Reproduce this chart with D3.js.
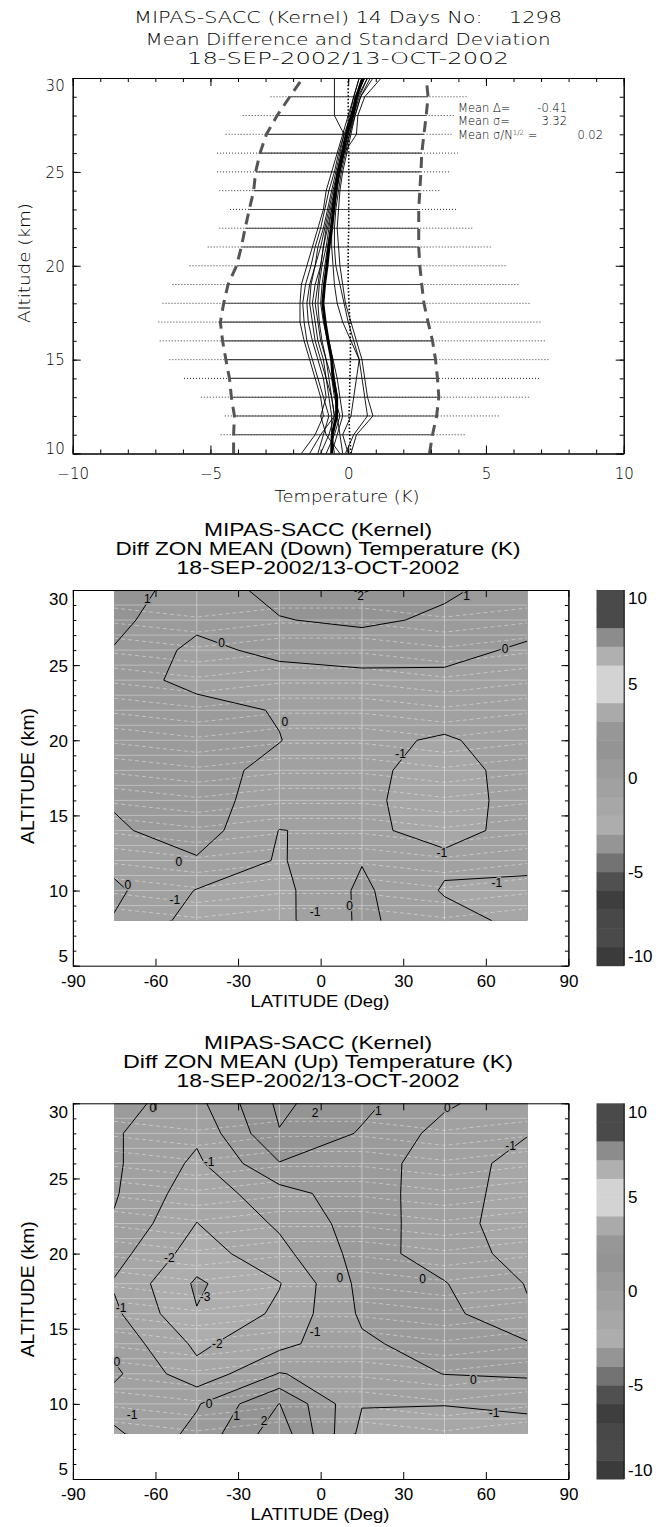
<!DOCTYPE html>
<meta charset="utf-8">
<style>
body { margin: 0; background: #fff; }
.hers { font-family: "DejaVu Sans", sans-serif; font-weight: 200; fill: #000; }
.helv { font-family: "Liberation Sans", Arial, sans-serif; fill: #000; }
</style>
<body>
<script src="https://d3js.org/d3.v7.min.js"></script>
<script>

// ---- profile panel: altitude levels (km)
var profAlt = [10,11,12,13,14,15,16,17,18,19,20,21,22,23,24,25,26,27,28,29,30];
// mean difference (thick line)
var meanDiff = [-0.6,-0.58,-0.42,-0.42,-0.55,-0.6,-0.73,-0.84,-0.92,-0.86,-0.77,-0.7,-0.6,-0.53,-0.46,-0.35,-0.19,-0.05,0.15,0.3,0.53];
// reference (dotted) line
var zeroRef = [0.1,0.05,0.03,0.05,0.06,0.08,0.08,0.06,0.03,0.0,0.0,0.0,0.02,0.02,0.02,0.02,0.02,0.0,0.0,0.0,0.0];
// standard deviation envelope (dashed)
var sigLow = [-4.16,-4.16,-4.13,-4.24,-4.31,-4.44,-4.56,-4.64,-4.52,-4.36,-4.05,-3.88,-3.74,-3.59,-3.43,-3.36,-3.2,-2.97,-2.58,-2.12,-1.65];
var sigHigh = [2.95,3.06,3.21,3.29,3.24,3.17,3.06,2.9,2.75,2.67,2.6,2.56,2.56,2.56,2.6,2.64,2.67,2.75,2.83,2.9,2.83];
// min / max range at each level
var barAlt = [11,12,13,14,15,16,17,18,19,20,21,22,23,24,25,26,27,28,29];
var barMin = [-4.63,-4.48,-5.35,-5.96,-6.49,-6.84,-6.89,-6.74,-6.38,-5.76,-5.1,-4.68,-4.29,-4.68,-4.76,-4.76,-4.45,-3.83,-2.82];
var barMax = [4.29,5.53,6.61,7.0,7.28,7.15,7.0,6.61,6.19,5.76,5.22,4.52,3.98,3.36,3.67,3.98,3.83,3.83,4.37];
// individual daily profiles
var profiles = [
  [-1.7,-1.2,-0.9,-1.0,-1.2,-1.4,-1.6,-1.75,-1.75,-1.7,-1.5,-1.3,-1.1,-0.9,-0.8,-0.6,-0.4,-0.2,0.0,0.2,0.4],
  [-1.1,-0.9,-0.7,-0.9,-1.1,-1.3,-1.5,-1.6,-1.65,-1.55,-1.35,-1.2,-1.0,-0.85,-0.7,-0.5,-0.35,-0.15,0.1,0.3,0.5],
  [-0.3,-0.8,-1.0,-0.8,-0.9,-1.1,-1.3,-1.45,-1.5,-1.4,-1.2,-1.0,-0.85,-0.7,-0.55,-0.4,-0.25,-0.1,0.1,0.25,0.6],
  [-0.5,-0.6,-0.6,-0.7,-0.8,-0.9,-1.1,-1.2,-1.3,-1.2,-1.0,-0.9,-0.75,-0.6,-0.5,-0.35,-0.2,0.0,0.2,0.4,0.7],
  [-0.8,-0.5,-0.3,-0.5,-0.6,-0.8,-0.95,-1.05,-1.1,-1.05,-0.95,-0.8,-0.7,-0.6,-0.45,-0.3,-0.15,0.05,0.25,0.45,0.8],
  [-0.2,-0.3,-0.4,-0.4,-0.5,-0.6,-0.75,-0.9,-1.0,-0.95,-0.85,-0.75,-0.65,-0.55,-0.45,-0.35,-0.2,-0.05,0.1,0.3,0.5],
  [0.1,0.3,0.9,0.7,0.6,0.5,0.3,0.1,-0.1,-0.2,-0.3,-0.35,-0.4,-0.35,-0.3,-0.2,-0.05,0.1,0.25,0.45,0.9],
  [-0.1,0.2,0.7,0.6,0.5,0.4,0.2,0.0,-0.15,-0.3,-0.45,-0.5,-0.5,-0.45,-0.35,-0.25,-0.1,0.05,0.2,0.35,0.7],
  [-1.4,-1.0,-0.5,-0.6,-0.8,-1.0,-1.2,-1.3,-1.4,-1.35,-1.2,-1.1,-0.9,-0.75,-0.6,-0.45,-0.3,-0.15,-0.5,-0.5,-0.5],
  [-0.6,-0.4,-0.2,-0.3,-0.4,-0.55,-0.7,-0.85,-0.9,-0.85,-0.8,-0.7,-0.6,-0.5,-0.4,-0.3,-0.15,0.3,0.35,0.6,1.2],
  [-1.0,-0.7,-0.5,-0.6,-0.7,-0.8,-1.0,-1.1,-1.2,-1.1,-1.0,-0.9,-0.8,-0.65,-0.5,-0.4,-0.25,-0.1,0.05,0.2,0.4],
  [0.0,-0.2,0.1,0.2,0.3,0.4,0.1,-0.2,-0.4,-0.5,-0.55,-0.6,-0.6,-0.55,-0.45,-0.3,-0.2,-0.05,0.1,0.3,0.6]
];
var statNames = ["Mean \u0394=", "Mean \u03c3=", "Mean \u03c3/N"];
var statValues = ["-0.41", "3.32", "0.02"];
var topTitle = ["MIPAS-SACC (Kernel) 14 Days No:    1298", "Mean Difference and Standard Deviation", "18-SEP-2002/13-OCT-2002"];

// ---- zonal mean difference maps (rows = altitude, columns = latitude)
var gridLat = [-75, -45, -15, 15, 45, 75];
var gridAlt = [8, 10, 12, 14, 16, 18, 20, 22, 24, 26, 28, 30];
var diffDown = [
  [-0.07, -1.4, -1.3, 0.18, -0.6, -1.3],
  [0.2, -1.05, -1.3, 0.2, -1.1, -1.1],
  [-0.3, -0.1, -1.1, -0.05, -0.8, -0.9],
  [-0.15, 0.5, -1.02, -0.82, -1.3, -0.7],
  [0.1, 0.35, -0.4, -0.85, -1.35, -0.7],
  [0.3, 0.4, -0.3, -0.82, -1.3, -0.7],
  [0.4, 0.45, 0.03, -0.8, -1.1, -0.6],
  [0.45, 0.35, -0.07, -0.5, -0.6, -0.4],
  [0.45, -0.3, -0.5, -0.27, -0.3, -0.3],
  [0.95, -0.3, 0.3, 0.4, 0.4, -0.21],
  [1.25, 0.3, 0.95, 1.2, 0.82, 0.5],
  [1.5, 0.5, 1.3, 2.1, 1.15, 0.6]
];
var diffUp = [
  [-1.2, 0.3, 2.6, -1.3, -1.3, -1.2],
  [-0.5, -0.1, 2.02, -0.95, -0.98, -0.9],
  [0.2, -1.7, 0.05, -0.5, 0.02, 0.15],
  [-0.3, -2.2, -1.3, -0.15, 0.4, 0.1],
  [-0.8, -2.95, -1.8, 0.15, 0.3, -0.9],
  [-1.1, -3.15, -2.05, 0.3, 0.05, -1.05],
  [-0.6, -2.5, -1.3, 0.4, -0.45, -1.4],
  [-0.1, -2.02, -0.85, 0.5, -0.55, -1.6],
  [0.1, -1.6, -0.4, 0.6, -0.68, -1.32],
  [0.15, -1.2, 0.95, 0.75, -0.8, -1.15],
  [0.1, -0.8, 1.95, 0.9, -0.35, -0.98],
  [0.2, -0.3, 2.2, 1.25, 0.15, -0.6]
];
var contourLevels = [-3, -2, -1, 0, 1, 2, 3];
var cbarLevels = [-10,-9,-8,-7,-6,-5,-4,-3,-2,-1,0,1,2,3,4,5,6,7,8,9,10];
var cbarColors = ["#3b3b3b","#4a4a4a","#484848","#3e3e3e","#505050","#737373","#959595","#adadad","#a7a7a7","#a1a1a1",
                  "#9b9b9b","#949494","#979797","#aaaaaa","#d3d3d3","#d3d3d3","#b0b0b0","#8c8c8c","#4a4a4a","#4a4a4a"];
var cbarTicks = [-10, -5, 0, 5, 10];
var latTicks = [-90, -60, -30, 0, 30, 60, 90];
var altTicks = [5, 10, 15, 20, 25, 30];
var gridLineLat = [-45, -15, 15, 45];
var gridLineAlt = [9,10,11,12,13,14,15,16,17,18,19,20,21,22,23,24,25,26,27,28,29];
var gridDashOffset = [0.6, 0, 0.6, 0.6, 0, 0.6];
var labelsDown = [
  {lat: -63, alt: 29.4, t: "1"}, {lat: 14.5, alt: 29.6, t: "2"}, {lat: 53, alt: 29.6, t: "1"},
  {lat: -36, alt: 26.5, t: "0"}, {lat: 67, alt: 26.1, t: "0"}, {lat: -13, alt: 21.2, t: "0"},
  {lat: 29, alt: 19.1, t: "-1"}, {lat: -51.5, alt: 11.9, t: "0"}, {lat: 44, alt: 12.5, t: "-1"},
  {lat: -70, alt: 10.4, t: "0"}, {lat: -53, alt: 9.4, t: "-1"}, {lat: 64, alt: 10.5, t: "-1"},
  {lat: -2, alt: 8.6, t: "-1"}, {lat: 10.5, alt: 9.0, t: "0"}
];
var labelsUp = [
  {lat: -61, alt: 29.7, t: "0"}, {lat: -2, alt: 29.4, t: "2"}, {lat: 21, alt: 29.5, t: "1"},
  {lat: 46, alt: 29.7, t: "0"}, {lat: -40.5, alt: 26.1, t: "-1"}, {lat: 69, alt: 27.2, t: "-1"},
  {lat: -55, alt: 19.7, t: "-2"}, {lat: 7, alt: 18.4, t: "0"}, {lat: 37, alt: 18.3, t: "0"},
  {lat: -42, alt: 17.1, t: "-3"}, {lat: -72.5, alt: 16.4, t: "-1"}, {lat: -2, alt: 14.8, t: "-1"},
  {lat: -37.5, alt: 14.0, t: "-2"}, {lat: -74, alt: 12.8, t: "0"}, {lat: 55.5, alt: 11.6, t: "0"},
  {lat: -40.5, alt: 10.0, t: "0"}, {lat: -68.5, alt: 9.3, t: "-1"}, {lat: -30.5, alt: 9.2, t: "1"},
  {lat: -20.5, alt: 8.9, t: "2"}, {lat: 63, alt: 9.4, t: "-1"}
];
var mapTitle1 = "MIPAS-SACC (Kernel)";
var mapTitle3 = "18-SEP-2002/13-OCT-2002";

var svg = d3.select("body").append("svg")
    .attr("width", 668)
    .attr("height", 1527);

// ================= top panel: profiles =================
var xT = d3.scaleLinear().domain([-10, 10]).range([72.7, 623.7]);
var yT = d3.scaleLinear().domain([10, 30]).range([453.5, 78]);

var topWidths = [428, 405, 322], topBase = [23.3, 45, 64];
topTitle.forEach(function(s, i) {
  svg.append("text").attr("class", "hers")
    .attr("x", 348).attr("y", topBase[i])
    .attr("text-anchor", "middle")
    .attr("textLength", topWidths[i]).attr("lengthAdjust", "spacingAndGlyphs")
    .style("font-size", "16px").style("white-space", "pre")
    .text(s);
});

svg.append("clipPath").attr("id", "clipTop").append("rect")
  .attr("x", xT(-10)).attr("y", yT(30)).attr("width", xT(10) - xT(-10)).attr("height", yT(10) - yT(30));
var gT = svg.append("g").attr("clip-path", "url(#clipTop)");

var altIdx = {};
profAlt.forEach(function(a, i) { altIdx[a] = i; });

// range lines
barAlt.forEach(function(a, i) {
  gT.append("line")
    .attr("x1", xT(barMin[i])).attr("x2", xT(barMax[i]))
    .attr("y1", yT(a)).attr("y2", yT(a))
    .attr("stroke", "#333").attr("stroke-width", 1).attr("stroke-dasharray", "1,2");
  var k = altIdx[a];
  gT.append("line")
    .attr("x1", xT(sigLow[k])).attr("x2", xT(sigHigh[k]))
    .attr("y1", yT(a)).attr("y2", yT(a))
    .attr("stroke", "#444").attr("stroke-width", 1.1);
});

var line = d3.line().x(function(d) { return xT(d[0]); }).y(function(d) { return yT(d[1]); });
function pairs(vals) { return vals.map(function(v, i) { return [v, profAlt[i]]; }); }

[sigLow, sigHigh].forEach(function(s) {
  gT.append("path").attr("d", line(pairs(s)))
    .attr("fill", "none").attr("stroke", "#555").attr("stroke-width", 3).attr("stroke-dasharray", "11,7");
});
profiles.forEach(function(p) {
  gT.append("path").attr("d", line(pairs(p)))
    .attr("fill", "none").attr("stroke", "#000").attr("stroke-width", 0.9);
});
gT.append("path").attr("d", line(pairs(zeroRef)))
  .attr("fill", "none").attr("stroke", "#000").attr("stroke-width", 1.6).attr("stroke-dasharray", "1.5,2");
gT.append("path").attr("d", line(pairs(meanDiff)))
  .attr("fill", "none").attr("stroke", "#000").attr("stroke-width", 3);

// stats legend
var statY = [111.7, 125, 139], statX = [567, 567, 603];
statNames.forEach(function(s, i) {
  var t = svg.append("text").attr("class", "hers").attr("x", 458).attr("y", statY[i])
    .style("font-size", "11.5px").text(s);
  if (i == 2) {
    t.append("tspan").attr("dy", -4).style("font-size", "7px").text("1/2");
    t.append("tspan").attr("dy", 4).text(" =");
  }
  svg.append("text").attr("class", "hers").attr("x", statX[i]).attr("y", statY[i])
    .attr("text-anchor", "end").style("font-size", "11.5px").text(statValues[i]);
});

// axes
function styleAxis(sel, cls, size) {
  sel.selectAll("path.domain").attr("stroke", "#000");
  sel.selectAll("line").attr("stroke", "#000");
  sel.selectAll("text").attr("class", cls).style("font-size", size).attr("fill", "#000");
}
var kMajor = [-10, -5, 0, 5, 10], aMajor = [10, 15, 20, 25, 30];
styleAxis(svg.append("g").attr("transform", "translate(0," + yT(10) + ")")
  .call(d3.axisBottom(xT).tickValues(kMajor).tickSize(-8).tickSizeOuter(0).tickPadding(15).tickFormat(d3.format("d"))), "hers", "15px");
svg.append("g").attr("transform", "translate(0," + yT(10) + ")")
  .call(d3.axisBottom(xT).ticks(20).tickSize(-4).tickSizeOuter(0).tickFormat("")).call(styleAxis, "hers", "0px");
svg.append("g").attr("transform", "translate(0," + yT(30) + ")")
  .call(d3.axisTop(xT).tickValues(kMajor).tickSize(-8).tickSizeOuter(0).tickFormat("")).call(styleAxis, "hers", "0px");
svg.append("g").attr("transform", "translate(0," + yT(30) + ")")
  .call(d3.axisTop(xT).ticks(20).tickSize(-4).tickSizeOuter(0).tickFormat("")).call(styleAxis, "hers", "0px");
var yAx = svg.append("g").attr("transform", "translate(" + xT(-10) + ",0)")
  .call(d3.axisLeft(yT).tickValues(aMajor).tickSize(-8).tickSizeOuter(0).tickPadding(8).tickFormat(d3.format("d")));
styleAxis(yAx, "hers", "15px");
yAx.selectAll("text").attr("dy", function(d) { return d == 10 ? "0em" : (d == 30 ? "0.85em" : "0.35em"); });
svg.append("g").attr("transform", "translate(" + xT(-10) + ",0)")
  .call(d3.axisLeft(yT).ticks(20).tickSize(-4).tickSizeOuter(0).tickFormat("")).call(styleAxis, "hers", "0px");
svg.append("g").attr("transform", "translate(" + xT(10) + ",0)")
  .call(d3.axisRight(yT).tickValues(aMajor).tickSize(-8).tickSizeOuter(0).tickFormat("")).call(styleAxis, "hers", "0px");
svg.append("g").attr("transform", "translate(" + xT(10) + ",0)")
  .call(d3.axisRight(yT).ticks(20).tickSize(-4).tickSizeOuter(0).tickFormat("")).call(styleAxis, "hers", "0px");

svg.append("text").attr("class", "hers").attr("x", 347).attr("y", 501.7)
  .attr("text-anchor", "middle").attr("textLength", 145).attr("lengthAdjust", "spacingAndGlyphs")
  .style("font-size", "15px").text("Temperature (K)");
svg.append("text").attr("class", "hers")
  .attr("transform", "translate(30,263) rotate(-90)")
  .attr("text-anchor", "middle").attr("textLength", 120).attr("lengthAdjust", "spacingAndGlyphs")
  .style("font-size", "15px").text("Altitude (km)");

// ================= map panels =================
function mapPanel(top, title2, title2Len, grid, labels, id) {
  var x = d3.scaleLinear().domain([-90, 90]).range([72.9, 568.4]);
  var y = d3.scaleLinear().domain([5, 30]).range([top + 375.7, top]);
  var cy = d3.scaleLinear().domain([-10, 10]).range([top + 375.7, top]);

  var titles = [mapTitle1, title2, mapTitle3], lens = [228, title2Len, 283], offs = [-54.5, -35, -16.5];
  titles.forEach(function(s, i) {
    svg.append("text").attr("class", "helv")
      .attr("x", 318).attr("y", top + offs[i]).attr("text-anchor", "middle")
      .attr("textLength", lens[i]).attr("lengthAdjust", "spacingAndGlyphs")
      .style("font-size", "19px").text(s);
  });

  var lat0 = gridLat[0], lat1 = gridLat[gridLat.length - 1];
  var alt0 = gridAlt[0], alt1 = gridAlt[gridAlt.length - 1];
  svg.append("clipPath").attr("id", id).append("rect")
    .attr("x", x(lat0)).attr("y", y(alt1)).attr("width", x(lat1) - x(lat0)).attr("height", y(alt0) - y(alt1));
  var g = svg.append("g").attr("clip-path", "url(#" + id + ")");

  var nx = gridLat.length, ny = gridAlt.length;
  var dLat = gridLat[1] - gridLat[0], dAlt = gridAlt[1] - gridAlt[0];
  var values = [];
  grid.forEach(function(row) { row.forEach(function(v) { values.push(v); }); });
  var proj = d3.geoTransform({ point: function(px, py) {
    this.stream.point(x(lat0 + (px - 0.5) * dLat), y(alt0 + (py - 0.5) * dAlt));
  }});
  var path = d3.geoPath(proj);

  var fills = d3.contours().size([nx, ny]).thresholds(cbarLevels.slice(0, -1))(values);
  g.selectAll("path.fill").data(fills).join("path")
    .attr("d", path).attr("fill", function(d, i) { return cbarColors[i]; }).attr("stroke", "none");

  // faint grid pattern
  gridLineLat.forEach(function(l) {
    g.append("line").attr("x1", x(l)).attr("x2", x(l)).attr("y1", y(alt0)).attr("y2", y(alt1))
      .attr("stroke", "rgba(255,255,255,0.4)").attr("stroke-width", 1);
  });
  gridLineAlt.forEach(function(a) {
    g.append("line").attr("x1", x(lat0)).attr("x2", x(lat1)).attr("y1", y(a)).attr("y2", y(a))
      .attr("stroke", "rgba(255,255,255,0.35)").attr("stroke-width", 1);
    var pts = gridLat.map(function(l, i) { return [x(l), y(a - 1 + 0.2 + gridDashOffset[i])]; });
    g.append("path").attr("d", d3.line()(pts)).attr("fill", "none")
      .attr("stroke", "rgba(255,255,255,0.4)").attr("stroke-width", 1).attr("stroke-dasharray", "4,3");
  });

  var lines = d3.contours().size([nx, ny]).thresholds(contourLevels)(values);
  g.selectAll("path.iso").data(lines).join("path")
    .attr("d", path).attr("fill", "none").attr("stroke", "#000").attr("stroke-width", 1);

  g.selectAll("text.clab").data(labels).join("text").attr("class", "helv")
    .attr("x", function(d) { return x(d.lat); }).attr("y", function(d) { return y(d.alt); })
    .attr("dy", "0.35em").attr("text-anchor", "middle")
    .style("font-size", "12px")
    .style("stroke", function(d) { return cbarColors[+d.t + 10]; })
    .style("stroke-width", 3).style("paint-order", "stroke")
    .text(function(d) { return d.t; });

  // axes
  var intFmt = function(d) { return String(d); };
  styleAxis(svg.append("g").attr("transform", "translate(0," + y(5) + ")")
    .call(d3.axisBottom(x).tickValues(latTicks).tickSize(-7).tickSizeOuter(0).tickPadding(9).tickFormat(intFmt)), "helv", "17px");
  svg.append("g").attr("transform", "translate(0," + y(30) + ")")
    .call(d3.axisTop(x).tickValues(latTicks).tickSize(-7).tickSizeOuter(0).tickFormat("")).call(styleAxis, "helv", "0px");
  var ya = svg.append("g").attr("transform", "translate(" + x(-90) + ",0)")
    .call(d3.axisLeft(y).tickValues(altTicks).tickSize(-7).tickSizeOuter(0).tickPadding(5).tickFormat(intFmt));
  styleAxis(ya, "helv", "17px");
  ya.selectAll("text").attr("dy", function(d) { return d == 5 ? "-0.25em" : (d == 30 ? "0.85em" : "0.35em"); });
  svg.append("g").attr("transform", "translate(" + x(-90) + ",0)")
    .call(d3.axisLeft(y).ticks(25).tickSize(-3.5).tickSizeOuter(0).tickFormat("")).call(styleAxis, "helv", "0px");
  svg.append("g").attr("transform", "translate(" + x(90) + ",0)")
    .call(d3.axisRight(y).tickValues(altTicks).tickSize(-7).tickSizeOuter(0).tickFormat("")).call(styleAxis, "helv", "0px");
  svg.append("g").attr("transform", "translate(" + x(90) + ",0)")
    .call(d3.axisRight(y).ticks(25).tickSize(-3.5).tickSizeOuter(0).tickFormat("")).call(styleAxis, "helv", "0px");

  svg.append("text").attr("class", "helv").attr("x", 320).attr("y", y(5) + 41)
    .attr("text-anchor", "middle").attr("textLength", 139).attr("lengthAdjust", "spacingAndGlyphs")
    .style("font-size", "17px").text("LATITUDE (Deg)");
  svg.append("text").attr("class", "helv")
    .attr("transform", "translate(34," + (top + 186) + ") rotate(-90)")
    .attr("text-anchor", "middle").attr("textLength", 136).attr("lengthAdjust", "spacingAndGlyphs")
    .style("font-size", "18px").text("ALTITUDE (km)");

  // colour bar
  var cb = svg.append("g");
  cb.selectAll("rect").data(cbarLevels.slice(0, -1)).join("rect")
    .attr("x", 596.5).attr("width", 27.7)
    .attr("y", function(d) { return cy(d + 1); })
    .attr("height", function(d) { return cy(d) - cy(d + 1) + 0.5; })
    .attr("fill", function(d, i) { return cbarColors[i]; });
  cb.append("line").attr("x1", 624.2).attr("x2", 624.2).attr("y1", cy(10)).attr("y2", cy(-10))
    .attr("stroke", "#000").attr("stroke-width", 1);
  cb.selectAll("text").data(cbarTicks).join("text").attr("class", "helv")
    .attr("x", 628).attr("y", function(d) { return cy(d); })
    .attr("dy", function(d) { return d == 10 ? "0.85em" : (d == -10 ? "-0.2em" : "0.35em"); })
    .style("font-size", "17px").text(function(d) { return d; });
}

mapPanel(590, "Diff ZON MEAN (Down) Temperature (K)", 405, diffDown, labelsDown, "clipDown");
mapPanel(1103.3, "Diff ZON MEAN (Up) Temperature (K)", 390, diffUp, labelsUp, "clipUp");

</script>
</body>
